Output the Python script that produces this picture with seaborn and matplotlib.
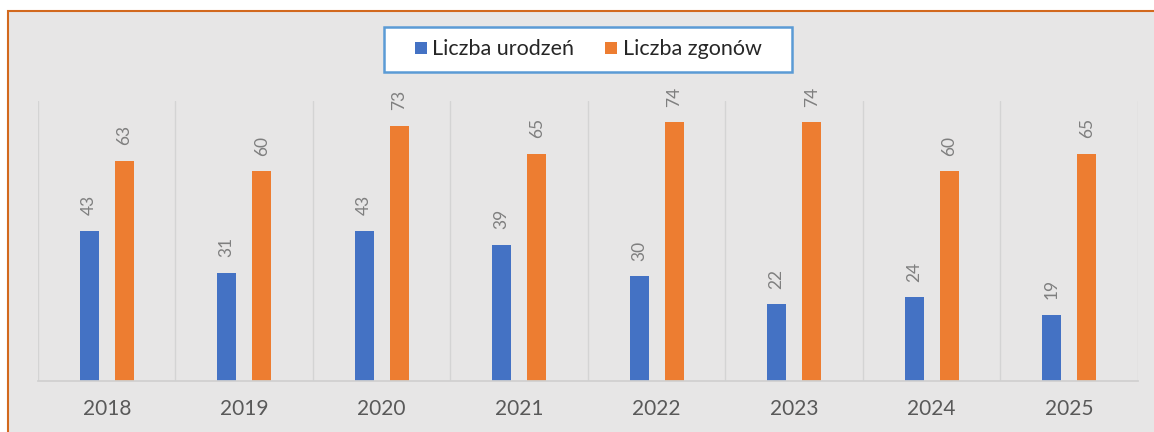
import matplotlib
matplotlib.use('Agg')
import matplotlib.pyplot as plt
import seaborn as sns
import pandas as pd
import numpy as np
from matplotlib.patches import Rectangle
from matplotlib.lines import Line2D

# dane z wykresu
years = ['2018', '2019', '2020', '2021', '2022', '2023', '2024', '2025']
urodzenia = [43, 31, 43, 39, 30, 22, 24, 19]
zgony = [63, 60, 73, 65, 74, 74, 60, 65]
series_names = ['Liczba urodzeń', 'Liczba zgonów']
colors = ['#4472c4', '#ed7d31']

df = pd.DataFrame({
    'rok': years * 2,
    'seria': [series_names[0]] * len(years) + [series_names[1]] * len(years),
    'wartosc': urodzenia + zgony,
})

sns.set_theme(style='white')
plt.rcParams['font.family'] = ['Lato', 'DejaVu Sans']

W, H = 1154, 432
fig = plt.figure(figsize=(W / 100, H / 100), dpi=100, facecolor='white')

# szare tlo z pomaranczowa ramka
fig.patches.append(Rectangle((8 / W, -0.05), 1.05, (H - 11) / H + 0.05,
                             transform=fig.transFigure, facecolor='#e7e6e6',
                             edgecolor='#d2691e', lw=1.5, zorder=-2))
# ramka legendy
fig.patches.append(Rectangle((384 / W, (H - 72) / H), 408 / W, 45 / H,
                             transform=fig.transFigure, facecolor='white',
                             edgecolor='#5b9bd5', lw=1.8, zorder=-1))

ax = fig.add_axes([38 / W, 51 / H, 1100 / W, 280 / H])
ax.set_facecolor('none')

sns.barplot(data=df, x='rok', y='wartosc', hue='seria', order=years,
            hue_order=series_names, palette=colors, saturation=1,
            width=0.51, gap=0.46, linewidth=0, legend=False, ax=ax)

ax.set_xlim(-0.5, len(years) - 0.5)
ax.set_ylim(0, 80)
for b in np.arange(-0.5, len(years)):
    ax.axvline(b, color='#d4d4d4', lw=1, zorder=0)

for c in ax.containers:
    ax.bar_label(c, rotation=90, padding=11, color='#7f7f7f', fontsize=12.5)

for s in ['top', 'left', 'right']:
    ax.spines[s].set_visible(False)
ax.spines['bottom'].set_color('#d0d0d0')
ax.set_yticks([])
ax.set_xlabel('')
ax.set_ylabel('')
ax.tick_params(axis='x', length=0, pad=13, labelsize=15, labelcolor='#595959')

handles = [Line2D([], [], marker='s', linestyle='none', markersize=9,
                  markerfacecolor=col, markeredgewidth=0) for col in colors]
ax.legend(handles, series_names, loc='center', bbox_to_anchor=(0.5, 1.184),
          ncol=2, frameon=False, fontsize=15.5, handlelength=0.6,
          handletextpad=0.25, columnspacing=1.4)

plt.savefig('out.png', dpi=100, facecolor='white')
plt.close()
